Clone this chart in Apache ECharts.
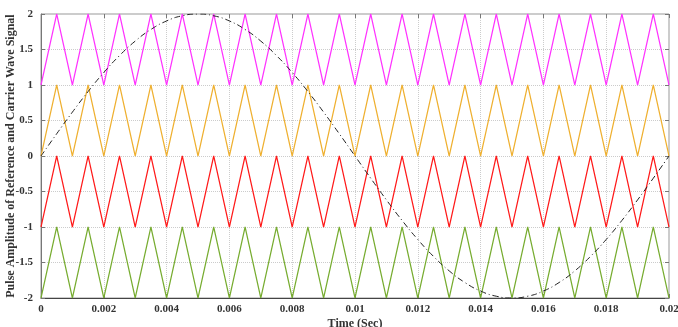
<!DOCTYPE html>
<html><head><meta charset="utf-8">
<script src="https://cdn.jsdelivr.net/npm/echarts@6/dist/echarts.min.js"></script>
<style>html,body{margin:0;padding:0;background:#fff}#c{width:678px;height:327px}</style>
</head><body><div id="c"></div>
<script>
var timeVals = [0,0.0005,0.001,0.0015,0.002,0.0025,0.003,0.0035,0.004,0.0045,0.005,0.0055,0.006,0.0065,0.007,0.0075,0.008,0.0085,0.009,0.0095,0.01,0.0105,0.011,0.0115,0.012,0.0125,0.013,0.0135,0.014,0.0145,0.015,0.0155,0.016,0.0165,0.017,0.0175,0.018,0.0185,0.019,0.0195,0.02];
var carrier1 = [1,2,1,2,1,2,1,2,1,2,1,2,1,2,1,2,1,2,1,2,1,2,1,2,1,2,1,2,1,2,1,2,1,2,1,2,1,2,1,2,1];
var carrier2 = [0,1,0,1,0,1,0,1,0,1,0,1,0,1,0,1,0,1,0,1,0,1,0,1,0,1,0,1,0,1,0,1,0,1,0,1,0,1,0,1,0];
var carrier3 = [-1,0,-1,0,-1,0,-1,0,-1,0,-1,0,-1,0,-1,0,-1,0,-1,0,-1,0,-1,0,-1,0,-1,0,-1,0,-1,0,-1,0,-1,0,-1,0,-1,0,-1];
var carrier4 = [-2,-1,-2,-1,-2,-1,-2,-1,-2,-1,-2,-1,-2,-1,-2,-1,-2,-1,-2,-1,-2,-1,-2,-1,-2,-1,-2,-1,-2,-1,-2,-1,-2,-1,-2,-1,-2,-1,-2,-1,-2];
var reference = [0,0.313,0.618,0.908,1.176,1.414,1.618,1.782,1.902,1.975,2,1.975,1.902,1.782,1.618,1.414,1.176,0.908,0.618,0.313,0,-0.313,-0.618,-0.908,-1.176,-1.414,-1.618,-1.782,-1.902,-1.975,-2,-1.975,-1.902,-1.782,-1.618,-1.414,-1.176,-0.908,-0.618,-0.313,0];
var xTicks = [0,0.002,0.004,0.006,0.008,0.01,0.012,0.014,0.016,0.018,0.02];
var yTicks = [-2,-1.5,-1,-0.5,0,0.5,1,1.5,2];

function pairs(v){ return timeVals.map(function(t,i){return [t,v[i]];}); }
var font = 'Liberation Serif';
var chart = echarts.init(document.getElementById('c'));
function line(v,color,w,type,smooth){
  return {type:'line',data:pairs(v),symbol:'none',smooth:smooth||false,animation:false,
    lineStyle:{color:color,width:w,type:type||'solid'},z:type?5:3};
}
chart.setOption({
  backgroundColor:'#fff',
  animation:false,
  grid:{left:41,right:9,top:14,bottom:29,show:true,borderColor:'#999',borderWidth:1,
    containLabel:false,outerBoundsMode:'none'},
  xAxis:[{type:'value',min:0,max:0.02,interval:0.002,
    name:'Time (Sec)',nameLocation:'middle',nameGap:20,nameMoveOverlap:false,
    nameTextStyle:{fontFamily:font,fontWeight:'bold',fontSize:12,color:'#333'},
    axisLine:{show:true,onZero:false,lineStyle:{color:'#444'}},
    axisTick:{inside:true,length:4,lineStyle:{color:'#777'}},
    axisLabel:{fontFamily:font,fontWeight:'bold',fontSize:11,color:'#333',margin:6,
      formatter:function(v){return String(parseFloat(v.toFixed(4)));}},
    splitLine:{show:true,lineStyle:{color:'#ccc',type:'dotted'}}},
   {type:'value',position:'top',min:0,max:0.02,interval:0.002,
    axisLine:{show:false,onZero:false},axisTick:{inside:true,length:4,lineStyle:{color:'#777'}},
    axisLabel:{show:false},splitLine:{show:false}}],
  yAxis:[{type:'value',min:-2,max:2,interval:0.5,
    name:'Pulse Amplitude of Reference and Carrier Wave Signal',nameLocation:'middle',nameGap:24,nameMoveOverlap:false,
    nameTextStyle:{fontFamily:font,fontWeight:'bold',fontSize:12,color:'#333'},
    axisLine:{show:true,onZero:false,lineStyle:{color:'#777'}},
    axisTick:{inside:true,length:4,lineStyle:{color:'#777'}},
    axisLabel:{fontFamily:font,fontWeight:'bold',fontSize:11,color:'#333',margin:8},
    splitLine:{show:true,lineStyle:{color:'#ccc',type:'dotted'}}},
   {type:'value',position:'right',min:-2,max:2,interval:0.5,
    axisLine:{show:false,onZero:false},axisTick:{inside:true,length:4,lineStyle:{color:'#777'}},
    axisLabel:{show:false},splitLine:{show:false}}],
  series:[
    line(carrier1,'#ff33ff',1.2),
    line(carrier2,'#efb030',1.2),
    line(carrier3,'#ff1a1a',1.2),
    line(carrier4,'#77ac30',1.2),
    line(reference,'#222',1,[6,3,1,3],true)
  ]
});
</script></body></html>
